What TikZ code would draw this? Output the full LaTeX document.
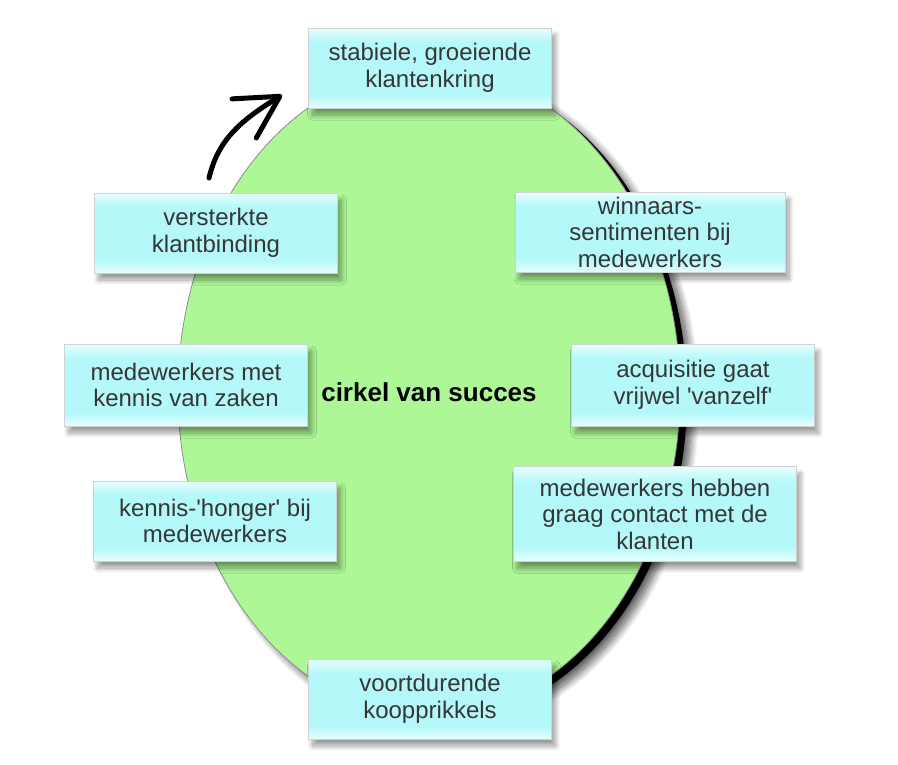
\documentclass[tikz,border=0pt]{standalone}
\usepackage{fontspec}
\setmainfont{Liberation Sans}
\usetikzlibrary{shapes.geometric,shadows.blur,arrows.meta}
\definecolor{boxcyan}{HTML}{B4F8FA}
\definecolor{boxlight}{HTML}{E8FEFE}
\definecolor{cirkelgreen}{HTML}{ADF796}
\definecolor{textgray}{HTML}{363636}
\pgfdeclareverticalshading{boxshade}{100bp}{color(0bp)=(boxlight); color(25bp)=(boxlight);
  color(33bp)=(boxcyan); color(66bp)=(boxcyan); color(75bp)=(boxlight); color(100bp)=(boxlight)}

\begin{document}
\begin{tikzpicture}[x=1pt,y=-1pt,
  box node/.style={rectangle,shading=boxshade,draw=black!18,line width=0.8pt,inner sep=1pt,
    minimum width=243pt,minimum height=80pt,align=center,text=textgray,
    font=\fontsize{24}{26.5}\selectfont,
    blur shadow={shadow xshift=4pt,shadow yshift=-7pt,shadow blur radius=5pt,
      shadow blur steps=20,shadow opacity=40}},
  circle node/.style={ellipse,fill=cirkelgreen,draw=black!45,line width=0.8pt,
    minimum width=502pt,minimum height=648pt,font=\fontsize{26}{28}\selectfont\bfseries}]

  \useasboundingbox (0,0) rectangle (898,764);

  % schaduw van de cirkel
  \fill[black,blur shadow={shadow xshift=5pt,shadow yshift=-5pt,shadow blur radius=8pt,
      shadow blur steps=20,shadow opacity=70}]
    (436,397) ellipse [x radius=251,y radius=324];
  \node[circle node] (cirkel) at (429,392) {cirkel van succes};

  \node[box node] (klanten) at (430,68) {stabiele, groeiende\\klantenkring};
  \node[box node] (binding) at (216,233) {versterkte\\klantbinding};
  \node[box node,minimum width=270pt] (winnaars) at (650,232) {winnaars-\\sentimenten bij\\medewerkers};
  \node[box node,minimum height=82pt] (kennis) at (186,385) {medewerkers met\\kennis van zaken};
  \node[box node,minimum height=82pt] (acquisitie) at (693,385) {acquisitie gaat\\vrijwel \textquotesingle vanzelf\textquotesingle};
  \node[box node] (honger) at (215,521) {kennis-\textquotesingle honger\textquotesingle\ bij\\medewerkers};
  \node[box node,minimum width=283pt,minimum height=95pt] (contact) at (655,514) {medewerkers hebben\\graag contact met de\\klanten};
  \node[box node] (koop) at (430,699) {voortdurende\\koopprikkels};

  \coordinate (pijlstart) at (209,178);
  \coordinate (pijltip) at (282,95);
  \draw[line width=5pt,line cap=round,-{Straight Barb[length=42pt,width=46pt,round]}]
    (pijlstart) .. controls (218,140) and (240,121) .. (pijltip);
\end{tikzpicture}
\end{document}
